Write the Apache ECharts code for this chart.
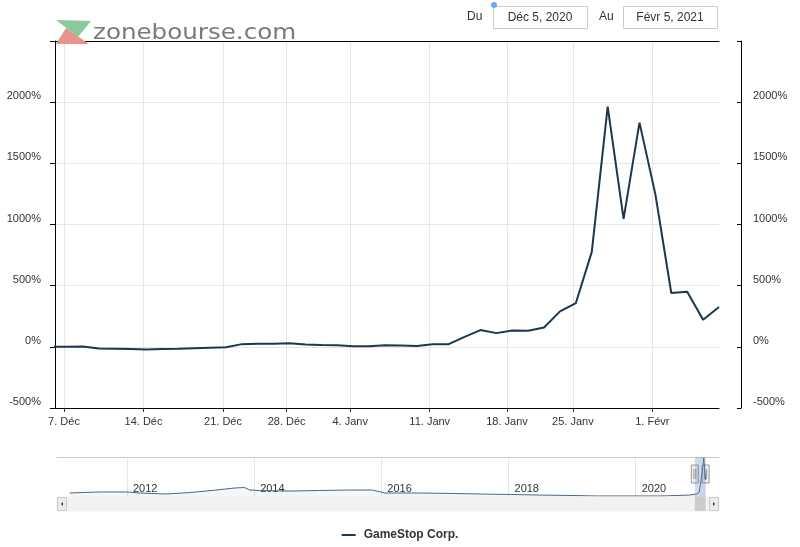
<!DOCTYPE html>
<html><head><meta charset="utf-8">
<script src="https://cdn.jsdelivr.net/npm/echarts@6/dist/echarts.min.js"></script>
<style>html,body{margin:0;padding:0;background:#fff}#c{width:800px;height:547px}</style>
</head><body><div id="c"></div>
<script>
// Trading days shown (Dec 4 lies just left of the visible range)
const tradingDays = ['2020-12-04','2020-12-07','2020-12-08','2020-12-09','2020-12-10','2020-12-11',
 '2020-12-14','2020-12-15','2020-12-16','2020-12-17','2020-12-18',
 '2020-12-21','2020-12-22','2020-12-23','2020-12-24',
 '2020-12-28','2020-12-29','2020-12-30','2020-12-31',
 '2021-01-04','2021-01-05','2021-01-06','2021-01-07','2021-01-08',
 '2021-01-11','2021-01-12','2021-01-13','2021-01-14','2021-01-15',
 '2021-01-19','2021-01-20','2021-01-21','2021-01-22',
 '2021-01-25','2021-01-26','2021-01-27','2021-01-28','2021-01-29',
 '2021-02-01','2021-02-02','2021-02-03','2021-02-04','2021-02-05'];
// GameStop Corp. change in %
const changePct = [0, 0, 2, -14, -15, -17,
 -21, -18, -16, -12, -8,
 -4, 22, 26, 26,
 29, 20, 16, 13,
 5, 5, 13, 10, 7,
 22, 22, 82, 137, 112,
 133, 132, 158, 290,
 358, 776, 1964, 1046, 1833,
 1246, 440, 451, 221, 325];
// x-axis tick labels and their positions in trading-day index units
const xTickLabels = ['7. Déc','14. Déc','21. Déc','28. Déc','4. Janv','11. Janv','18. Janv','25. Janv','1. Févr'];
const xTickPos = [-0.19, 4.81, 9.81, 13.81, 17.81, 22.81, 27.67, 31.81, 36.81];
const yTicks = [-500, 0, 500, 1000, 1500, 2000, 2500];
// navigator (full history) – year, level read from the navigator strip
const navYears = [2011.1, 2011.3, 2011.58, 2012.0, 2012.2, 2012.6, 2013.0, 2013.4, 2013.7, 2013.85, 2013.93,
 2014.1, 2014.56, 2015.03, 2015.5, 2015.86, 2016.06, 2016.6, 2017.1, 2017.56, 2018.03, 2018.5,
 2019.0, 2019.4, 2019.9, 2020.4, 2020.85, 2020.96, 2021.0, 2021.05, 2021.07, 2021.1];
const navValues = [35, 39, 44, 44, 35, 26, 39, 61, 79, 83, 61,
 57, 52, 57, 61, 61, 35, 35, 31, 26, 22, 17,
 13, 9, 9, 9, 17, 26, 44, 236, 341, 149];
const navYearLabels = [2012, 2014, 2016, 2018, 2020];
const rangeFrom = 2020.93, rangeTo = 2021.1;

const lineColor = '#1d3652';
const mainData = changePct.map((v, k) => [k - 1, v]);
const navData = navYears.map((y, k) => [y, navValues[k]]);
const xLabelMap = {};
xTickPos.forEach((p, k) => xLabelMap[p.toFixed(2)] = xTickLabels[k]);

const chart = echarts.init(document.getElementById('c'));
const font = 'Liberation Sans, Arial, sans-serif';
chart.setOption({
  animation: false,
  textStyle: {fontFamily: font},
  grid: [
    {left: 55, top: 41, width: 664, height: 367},
    {left: 57, top: 457, width: 662, height: 40}
  ],
  xAxis: [
    {gridIndex: 0, type: 'value', min: -0.755, max: 41, position: 'bottom',
     axisLine: {show: true, onZero: false, lineStyle: {color: '#000', width: 1}},
     axisTick: {show: true, length: 4, customValues: xTickPos, lineStyle: {color: '#333'}},
     axisLabel: {customValues: xTickPos, margin: 8, fontSize: 11, color: '#333', fontFamily: font,
       formatter: v => xLabelMap[v.toFixed(2)] || ''},
     splitLine: {show: true, lineStyle: {color: '#e6e6e6'}}},
    {gridIndex: 0, type: 'value', min: -0.755, max: 41, position: 'top',
     axisLine: {show: true, onZero: false, lineStyle: {color: '#000', width: 1}},
     axisTick: {show: false}, axisLabel: {show: false}, splitLine: {show: false}},
    {gridIndex: 1, type: 'value', min: 2010.9, max: 2021.31, position: 'bottom',
     axisLine: {show: false, onZero: false}, axisTick: {show: false, customValues: navYearLabels},
     axisLabel: {customValues: navYearLabels, inside: true, margin: 3, fontSize: 11, color: '#333',
       align: 'left', padding: [0, 0, 0, 6], fontFamily: font, formatter: v => String(Math.round(v))},
     splitLine: {show: true, lineStyle: {color: '#e6e6e6'}}},
    {gridIndex: 1, type: 'value', min: 2010.9, max: 2021.31, position: 'top',
     axisLine: {show: true, onZero: false, lineStyle: {color: '#cccccc'}}, axisTick: {show: false},
     axisLabel: {show: false}, splitLine: {show: false}}
  ],
  yAxis: [
    {gridIndex: 0, type: 'value', min: -500, max: 2500, interval: 500, position: 'left',
     axisLine: {show: true, onZero: false, lineStyle: {color: '#000'}},
     axisTick: {show: true, length: 5, lineStyle: {color: '#000'}},
     axisLabel: {margin: 14, fontSize: 11, color: '#333', fontFamily: font, verticalAlign: 'bottom', lineHeight: 12,
       formatter: v => v === 2500 ? '' : v + '%'},
     splitLine: {show: true, lineStyle: {color: '#e6e6e6'}}},
    {gridIndex: 0, type: 'value', min: -500, max: 2500, interval: 500, position: 'right', offset: 22,
     axisLine: {show: true, onZero: false, lineStyle: {color: '#000'}},
     axisTick: {show: true, inside: true, length: 4, lineStyle: {color: '#000'}},
     axisLabel: {margin: 12, fontSize: 11, color: '#333', fontFamily: font, verticalAlign: 'bottom', lineHeight: 12,
       formatter: v => v === 2500 ? '' : v + '%'},
     splitLine: {show: false}},
    {gridIndex: 1, type: 'value', min: 0, max: 350, show: false}
  ],
  legend: {bottom: 1, left: 'center', itemWidth: 14, itemHeight: 2, icon: 'rect', itemGap: 8,
    textStyle: {fontSize: 12, fontWeight: 'bold', color: '#333', fontFamily: font, padding: [0, 0, 0, 3]},
    data: ['GameStop Corp.']},
  series: [
    {name: 'GameStop Corp.', type: 'line', xAxisIndex: 0, yAxisIndex: 0, data: mainData,
     symbol: 'none', lineStyle: {color: lineColor, width: 2}, itemStyle: {color: lineColor}, clip: true},
    {name: 'nav', type: 'line', xAxisIndex: 2, yAxisIndex: 2, data: navData, symbol: 'none',
     lineStyle: {color: '#4a6785', width: 1}, areaStyle: {color: 'rgba(29,54,82,0.06)'}, silent: true}
  ]
});

// navigator UI (mask, handles, scrollbar)
const x1 = chart.convertToPixel({xAxisIndex: 2}, rangeFrom);
const x2 = chart.convertToPixel({xAxisIndex: 2}, rangeTo);
const navTop = 457, navBot = 497, navL = 57, navR = 719;
function handle(x) {
  return {type: 'group', children: [
    {type: 'rect', shape: {x: x - 3.5, y: 465, width: 7, height: 18}, style: {fill: '#f2f2f2', stroke: '#999', lineWidth: 1}},
    {type: 'line', shape: {x1: x - 1, y1: 469, x2: x - 1, y2: 479}, style: {stroke: '#999', lineWidth: 1}},
    {type: 'line', shape: {x1: x + 1, y1: 469, x2: x + 1, y2: 479}, style: {stroke: '#999', lineWidth: 1}}
  ]};
}
chart.setOption({graphic: [
  // logo
  {type: 'polygon', shape: {points: [[56, 20], [91, 21], [78, 37]]}, style: {fill: '#8cc89b'}, z: 10},
  {type: 'polygon', shape: {points: [[66, 28], [56, 44], [89, 44]]}, style: {fill: '#e9918c'}, z: 9},
  {type: 'text', x: 93, y: 23, scaleX: 1.17, z: 10, style: {text: 'zonebourse.com', fontSize: 21, fontFamily: 'DejaVu Sans', fill: '#7a7a7a'}},
  // date inputs
  {type: 'text', left: 467, top: 11, style: {text: 'Du', fontSize: 12, fontFamily: font, fill: '#333'}},
  {type: 'rect', shape: {x: 493.5, y: 6.5, width: 94, height: 22}, style: {fill: '#fff', stroke: '#cccccc', lineWidth: 1}},
  {type: 'text', style: {text: 'Déc 5, 2020', x: 540, y: 17.5, align: 'center', verticalAlign: 'middle', fontSize: 12, fontFamily: font, fill: '#333'}},
  {type: 'circle', shape: {cx: 494, cy: 5, r: 3}, style: {fill: '#6fa8f0'}},
  {type: 'text', left: 599, top: 11, style: {text: 'Au', fontSize: 12, fontFamily: font, fill: '#333'}},
  {type: 'rect', shape: {x: 623.5, y: 6.5, width: 94, height: 22}, style: {fill: '#fff', stroke: '#cccccc', lineWidth: 1}},
  {type: 'text', style: {text: 'Févr 5, 2021', x: 670, y: 17.5, align: 'center', verticalAlign: 'middle', fontSize: 12, fontFamily: font, fill: '#333'}},
  // navigator mask
  {type: 'rect', shape: {x: x1, y: navTop, width: x2 - x1, height: navBot - navTop}, style: {fill: 'rgba(102,133,194,0.3)'}, z: 5},
  handle(x1), handle(x2),
  // scrollbar
  {type: 'rect', shape: {x: navL, y: navBot, width: navR - navL, height: 14}, style: {fill: '#f2f2f2', stroke: '#f2f2f2'}, z: 4},
  {type: 'rect', shape: {x: x1, y: navBot, width: x2 - x1, height: 14}, style: {fill: '#cccccc'}, z: 5},
  {type: 'rect', shape: {x: navL + 0.5, y: navBot + 0.5, width: 9, height: 13}, style: {fill: '#ebebeb', stroke: '#cccccc'}, z: 6},
  {type: 'polygon', shape: {points: [[navL + 6, navBot + 5], [navL + 6, navBot + 9], [navL + 4, navBot + 7]]}, style: {fill: '#333'}, z: 7},
  {type: 'rect', shape: {x: navR - 9.5, y: navBot + 0.5, width: 9, height: 13}, style: {fill: '#ebebeb', stroke: '#cccccc'}, z: 6},
  {type: 'polygon', shape: {points: [[navR - 6, navBot + 5], [navR - 6, navBot + 9], [navR - 4, navBot + 7]]}, style: {fill: '#333'}, z: 7}
]});
</script></body></html>
